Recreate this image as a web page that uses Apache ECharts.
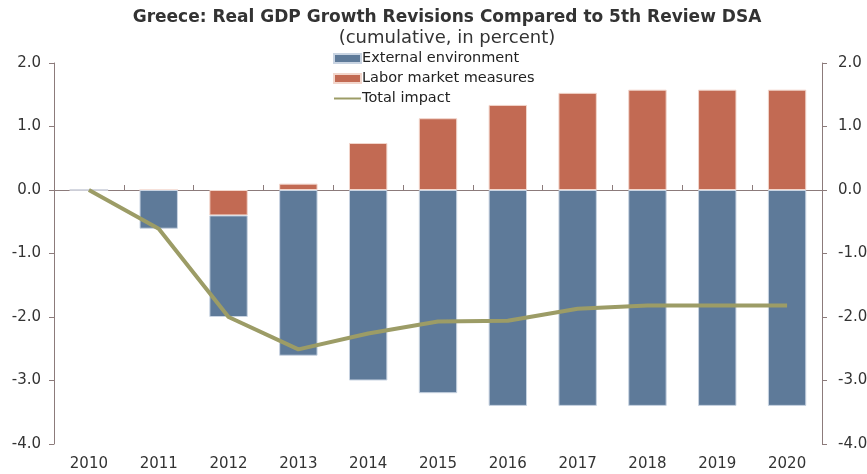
<!DOCTYPE html>
<html>
<head>
<meta charset="utf-8">
<script src="https://cdn.jsdelivr.net/npm/echarts@6/dist/echarts.min.js"></script>
<style>
  html, body { margin: 0; padding: 0; background: #fff; }
  #chart { width: 867px; height: 474px; }
</style>
</head>
<body>
<div id="chart"></div>
<script>
const years = ['2010', '2011', '2012', '2013', '2014', '2015', '2016', '2017', '2018', '2019', '2020']
const externalEnv = [0, -0.61, -1.6, -2.61, -3.0, -3.2, -3.4, -3.4, -3.4, -3.4, -3.4]
const laborMeasures = [0, 0, -0.4, 0.1, 0.74, 1.13, 1.34, 1.53, 1.58, 1.58, 1.58]
const totalImpact = [0, -0.61, -2.0, -2.51, -2.26, -2.07, -2.06, -1.87, -1.82, -1.82, -1.82]

const axisColor = '#8c7b7b'
const font = 'DejaVu Sans'

const chart = echarts.init(document.getElementById('chart'))

function valueAxis(pos) {
  return {
    type: 'value',
    position: pos,
    min: -4,
    max: 2,
    interval: 1,
    axisLine: { show: true, lineStyle: { color: axisColor, width: 1 } },
    axisTick: { show: true, inside: false, length: 5, lineStyle: { color: axisColor } },
    axisLabel: {
      formatter: v => v.toFixed(1),
      color: '#333',
      fontFamily: font,
      fontSize: 15,
      margin: pos === 'left' ? 13 : 16
    },
    splitLine: { show: false }
  }
}

chart.setOption({
  animation: false,
  title: [{
    text: 'Greece: Real GDP Growth Revisions Compared to 5th Review DSA',
    left: 442,
    top: 4,
    textAlign: 'center',
    textStyle: { fontFamily: font, fontWeight: 'bold', fontSize: 17, color: '#333' }
  }, {
    text: '(cumulative, in percent)',
    left: 442,
    top: 24,
    textAlign: 'center',
    textStyle: { fontFamily: font, fontWeight: 'normal', fontSize: 18, color: '#333' }
  }],
  legend: {
    orient: 'vertical',
    left: 328,
    top: 46,
    itemWidth: 27,
    itemHeight: 9,
    itemGap: 5,
    textStyle: { fontFamily: font, fontSize: 14.5, color: '#222', padding: [0, 0, 0, -4] },
    data: [
      { name: 'External environment', icon: 'rect' },
      { name: 'Labor market measures', icon: 'rect' },
      { name: 'Total impact', itemStyle: { opacity: 0 } }
    ]
  },
  grid: { left: 54, right: 45, top: 63, bottom: 30, outerBoundsMode: 'none', containLabel: false },
  xAxis: [{
    type: 'category',
    data: years,
    position: 'bottom',
    axisLine: { show: false },
    axisTick: { show: false },
    axisLabel: { color: '#333', fontFamily: font, fontSize: 15, margin: 13 }
  }, {
    type: 'category',
    data: years,
    position: 'bottom',
    axisLine: { show: true, onZero: true, lineStyle: { color: axisColor } },
    axisTick: { show: true, inside: true, length: 5, lineStyle: { color: axisColor } },
    axisLabel: { show: false }
  }],
  yAxis: [valueAxis('left'), valueAxis('right')],
  series: [{
    name: 'Labor market measures',
    type: 'bar',
    stack: 'gdp',
    barWidth: '55%',
    data: laborMeasures,
    itemStyle: { color: '#c26a53', borderColor: '#f2d6cc', borderWidth: 1 }
  }, {
    name: 'External environment',
    type: 'bar',
    stack: 'gdp',
    barWidth: '55%',
    data: externalEnv,
    itemStyle: { color: '#5e7a99', borderColor: '#c9d4e2', borderWidth: 1 }
  }, {
    name: 'Total impact',
    type: 'line',
    data: totalImpact,
    symbol: 'none',
    lineStyle: { color: '#9c9c66', width: 4 },
    itemStyle: { color: '#9c9c66' },
    z: 5
  }]
})
</script>
</body>
</html>
